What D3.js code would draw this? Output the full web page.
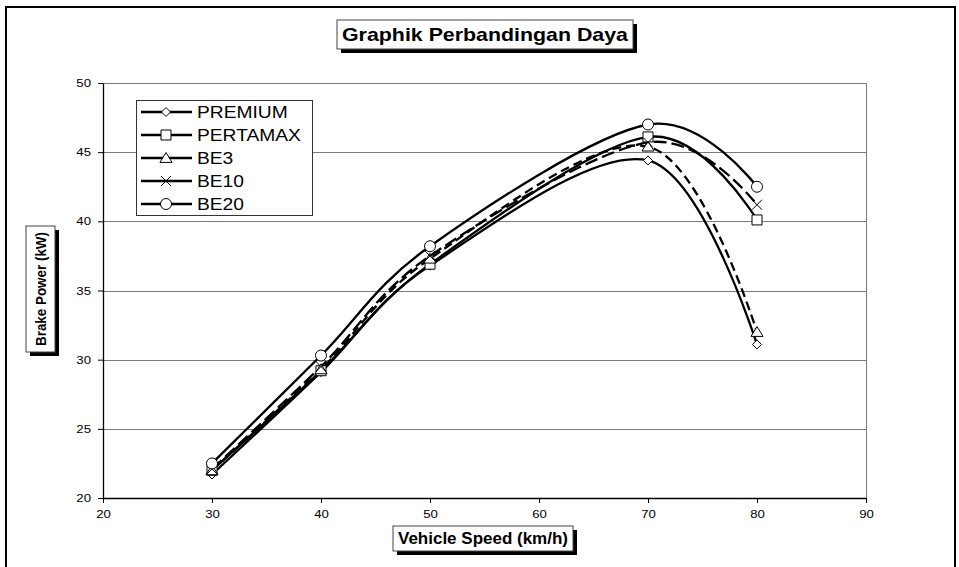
<!DOCTYPE html>
<html>
<head>
<meta charset="utf-8">
<script src="https://cdn.jsdelivr.net/npm/d3@7"></script>
<style>
  body { margin:0; background:#fff; }
  svg { display:block; font-family:"Liberation Sans", Arial, sans-serif; }
</style>
</head>
<body>
<div id="plot"></div>
<script>
// data
var speeds = [30, 40, 50, 70, 80];
var seriesNames = ['PREMIUM', 'PERTAMAX', 'BE3', 'BE10', 'BE20'];
var premium  = [21.7, 29.1, 36.8, 44.4, 31.1];
var pertamax = [22.0, 29.2, 36.9, 46.1, 40.1];
var be3      = [22.0, 29.3, 37.3, 45.4, 32.0];
var be10     = [22.1, 29.5, 37.5, 45.7, 41.2];
var be20     = [22.5, 30.3, 38.2, 47.0, 42.5];
var xTicks = [20, 30, 40, 50, 60, 70, 80, 90];
var yTicks = [20, 25, 30, 35, 40, 45, 50];

var symbolsOf = ['diamond', 'square', 'triangle', 'cross', 'circle'];
var dashes = [null, null, '9,5', '13,5', null];
var allValues = [premium, pertamax, be3, be10, be20];

var W = 959, H = 567;
var margin = {t:83, r:93, b:69, l:103};
var width = W - margin.l - margin.r,
    height = H - margin.t - margin.b;

// the source picture is a bit wider than tall, stretch text sideways
var stretchK = 1.2;
function stretch(sel, k) {
    sel.each(function(){
        var len = this.getComputedTextLength();
        d3.select(this).attr('textLength', len * (k || stretchK)).attr('lengthAdjust', 'spacingAndGlyphs');
    });
}

var svg = d3.select('#plot').append('svg')
    .attr('width', W)
    .attr('height', H);

// outer chart frame
svg.append('rect')
    .attr('x', 6).attr('y', 7)
    .attr('width', 949).attr('height', 600)
    .style('fill', 'none').style('stroke', '#000').style('stroke-width', 2);

var plot = svg.append('g')
    .attr('class', 'plot')
    .attr('transform', 'translate(' + margin.l + ',' + margin.t + ')');

var x = d3.scaleLinear().domain([20, 90]).range([0, width]);
var y = d3.scaleLinear().domain([20, 50]).range([height, 0]);

// gridlines
plot.selectAll('.grid')
    .data(yTicks.slice(1))
    .enter().append('line')
    .attr('x1', 0).attr('x2', width)
    .attr('y1', function(d){ return Math.round(y(d)) + 0.5; })
    .attr('y2', function(d){ return Math.round(y(d)) + 0.5; })
    .style('stroke', '#7a7a7a').style('stroke-width', 1);

// right border of plot area
plot.append('line')
    .attr('x1', width + 0.5).attr('x2', width + 0.5)
    .attr('y1', 0).attr('y2', height)
    .style('stroke', '#7a7a7a');

// axes
var xAxis = plot.append('g')
    .attr('transform', 'translate(0,' + height + ')')
    .call(d3.axisBottom(x).tickValues(xTicks).tickSize(5).tickSizeOuter(0).tickPadding(7));
var yAxis = plot.append('g')
    .call(d3.axisLeft(y).tickValues(yTicks).tickSize(5).tickSizeOuter(0).tickPadding(7));
[xAxis, yAxis].forEach(function(a){
    a.select('.domain').style('stroke', '#000').style('stroke-width', 1.3);
    a.selectAll('.tick line').style('stroke', '#000');
    a.selectAll('.tick text').style('font-size', '11px')
        .style('font-family', '"Liberation Sans", Arial, sans-serif').style('fill', '#000')
        .call(stretch);
});

function symbolPath(type, s) {
    if (type == 'diamond') return 'M0,' + (-s) + 'L' + s + ',0L0,' + s + 'L' + (-s) + ',0Z';
    if (type == 'square') return 'M' + (-s) + ',' + (-s) + 'H' + s + 'V' + s + 'H' + (-s) + 'Z';
    if (type == 'triangle') return 'M0,' + (-s) + 'L' + (s*1.1) + ',' + (s*0.8) + 'L' + (-s*1.1) + ',' + (s*0.8) + 'Z';
    if (type == 'cross') return 'M' + (-s) + ',' + (-s) + 'L' + s + ',' + s + 'M' + s + ',' + (-s) + 'L' + (-s) + ',' + s;
    return 'M' + s + ',0A' + s + ',' + s + ' 0 1,1 ' + (-s) + ',0A' + s + ',' + s + ' 0 1,1 ' + s + ',0Z';
}
var markSize = [4.5, 5, 5.5, 5, 5.5];

var line = d3.line()
    .x(function(d){ return x(d[0]); })
    .y(function(d){ return y(d[1]); })
    .curve(d3.curveCatmullRom.alpha(0));

allValues.forEach(function(vals, i){
    var pts = speeds.map(function(s, j){ return [s, vals[j]]; });
    plot.append('path')
        .attr('d', line(pts))
        .style('fill', 'none').style('stroke', '#000').style('stroke-width', 2.3)
        .style('stroke-dasharray', dashes[i]);
});
allValues.forEach(function(vals, i){
    speeds.forEach(function(s, j){
        plot.append('path')
            .attr('d', symbolPath(symbolsOf[i], markSize[i]))
            .attr('transform', 'translate(' + x(s) + ',' + y(vals[j]) + ')')
            .style('fill', symbolsOf[i] == 'cross' ? 'none' : '#fff')
            .style('stroke', '#000').style('stroke-width', 1);
    });
});

// legend
var legend = svg.append('g');
legend.append('rect')
    .attr('x', 136.5).attr('y', 100.5).attr('width', 176).attr('height', 115)
    .style('fill', '#fff').style('stroke', '#333').style('stroke-width', 1);
seriesNames.forEach(function(name, i){
    var ly = 112 + i * 23;
    legend.append('line')
        .attr('x1', 141).attr('x2', 192).attr('y1', ly).attr('y2', ly)
        .style('stroke', '#000').style('stroke-width', 2.3);
    legend.append('path')
        .attr('d', symbolPath(symbolsOf[i], markSize[i]))
        .attr('transform', 'translate(166,' + ly + ')')
        .style('fill', symbolsOf[i] == 'cross' ? 'none' : '#fff')
        .style('stroke', '#000').style('stroke-width', 1);
    legend.append('text')
        .attr('x', 197).attr('y', ly + 6)
        .style('font-size', '16px')
        .text(name)
        .call(stretch);
});

// boxed labels with shadow
function boxLabel(cx, cy, txt, size, len, bw, bh, rotate) {
    var g = svg.append('g').attr('transform', 'translate(' + cx + ',' + cy + ')' + (rotate ? ' rotate(-90)' : ''));
    var shadow = g.append('rect');
    var box = g.append('rect');
    g.append('text')
        .attr('text-anchor', 'middle').attr('y', size * 0.36)
        .attr('textLength', len).attr('lengthAdjust', 'spacingAndGlyphs')
        .style('font-size', size + 'px').style('font-weight', 'bold')
        .text(txt);
    box.attr('x', -bw/2).attr('y', -bh/2).attr('width', bw).attr('height', bh)
        .style('fill', '#fff').style('stroke', '#444').style('stroke-width', 1);
    // shadow goes to the lower right on screen
    shadow.attr('x', -bw/2 + 4).attr('y', -bh/2 + 4).attr('width', bw).attr('height', bh)
        .style('fill', '#000');
    if (rotate) shadow.attr('x', -bw/2 - 4).attr('y', -bh/2 + 4);
}
boxLabel(485, 34.5, 'Graphik Perbandingan Daya', 19, 286, 296, 29, false);
boxLabel(483, 538.5, 'Vehicle Speed (km/h)', 16, 170, 180, 25, false);
boxLabel(40.5, 289, 'Brake Power (kW)', 14, 114, 126, 29, true);
</script>
</body>
</html>
